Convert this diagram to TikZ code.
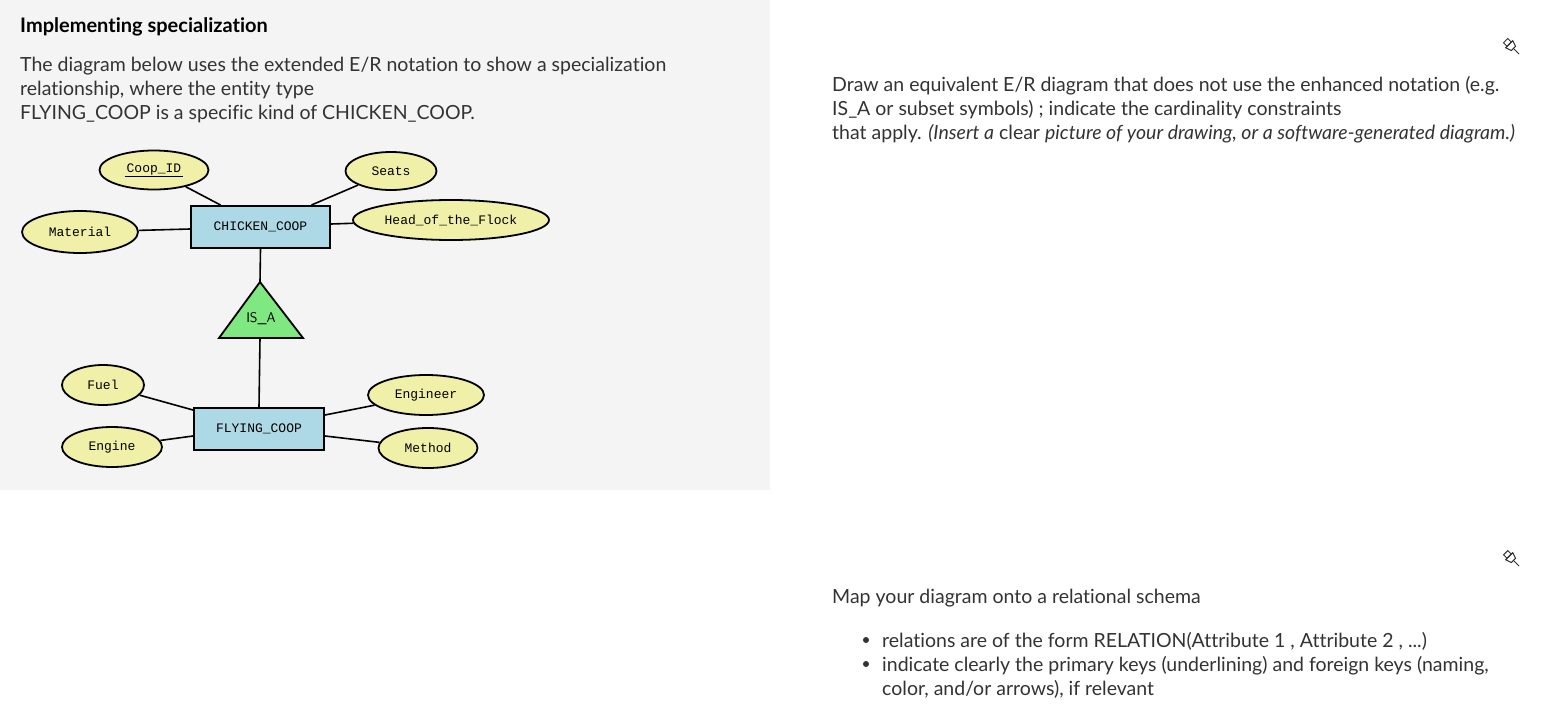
\documentclass[tikz,border=0pt]{standalone}
\usepackage{fontspec}
\setmainfont{Lato}[Ligatures={NoCommon,NoRare}]
\newfontfamily\diagfont{Liberation Mono}
\usetikzlibrary{shapes.geometric}
\definecolor{txt}{HTML}{333333}
\definecolor{panel}{HTML}{F4F4F4}
\definecolor{entc}{HTML}{ADD8E6}
\definecolor{attc}{HTML}{F0F0A8}
\definecolor{isac}{HTML}{80E880}
\begin{document}
\begin{tikzpicture}[x=1pt,y=-1pt,
  ent/.style={draw=black,line width=2pt,fill=entc,minimum height=42pt,inner sep=0pt,font=\diagfont\fontsize{13}{13}\selectfont},
  att/.style={draw=black,line width=1.8pt,fill=attc,ellipse,inner sep=0pt,font=\diagfont\fontsize{13}{13}\selectfont},
  lnk/.style={line width=1.6pt},
  body/.style={anchor=base west,inner sep=0pt,text=txt,font=\fontsize{19.5}{19.5}\selectfont},
  pin/.style={line width=1pt,draw=txt}]
\useasboundingbox (0,0) rectangle (1558,712);
\fill[white] (0,0) rectangle (1558,712);
\fill[panel] (0,0) rectangle (770,490);
% left text
\node[body,font=\bfseries\fontsize{20}{20}\selectfont,text=black] (title) at (20,32) {Implementing specialization};
\node[body] (l1) at (20,71) {The diagram below uses the extended E/R notation to show a specialization};
\node[body] (l2) at (20,95) {relationship, where the entity type};
\node[body] (l3) at (20,119) {FLYING\_COOP is a specific kind of CHICKEN\_COOP.};
% diagram
\node[ent,minimum width=139pt] (cc) at (260.5,227) {CHICKEN\_COOP};
\node[ent,minimum width=130pt] (fc) at (259,429) {FLYING\_COOP};
\node[att,minimum width=109pt,minimum height=39pt] (cid) at (154,170) {\underline{\,Coop\_ID\,}};
\node[att,minimum width=91pt,minimum height=38pt] (seats) at (391,171) {Seats};
\node[att,minimum width=196pt,minimum height=40pt] (head) at (451,220) {Head\_of\_the\_Flock};
\node[att,minimum width=116pt,minimum height=42pt] (mat) at (80,232) {Material};
\node[att,minimum width=82pt,minimum height=40pt] (fuel) at (103,385) {Fuel};
\node[att,minimum width=100pt,minimum height=40pt] (eng) at (112,447) {Engine};
\node[att,minimum width=116pt,minimum height=40pt] (engr) at (426,395) {Engineer};
\node[att,minimum width=99pt,minimum height=40pt] (meth) at (428,448) {Method};
\coordinate (ta) at (260,282);
\coordinate (tb1) at (219,338);
\coordinate (tb2) at (303,338);
\coordinate (tbm) at (260,338);
\filldraw[fill=isac,draw=black,line width=1.8pt,line join=miter] (ta) -- (tb2) -- (tb1) -- cycle;
\node[inner sep=0pt,font=\fontsize{14}{14}\selectfont\sffamily] (isa) at (261,319) {IS\_A};
\draw[lnk] (cid) -- ([xshift=-40pt]cc.north);
\draw[lnk] (seats) -- ([xshift=51pt]cc.north);
\draw[lnk] (head) -- ([yshift=3pt]cc.east);
\draw[lnk] (mat) -- ([yshift=-2pt]cc.west);
\draw[lnk] (cc.south) -- (ta);
\draw[lnk] (tbm) -- (fc.north);
\draw[lnk] (fuel) -- ([yshift=19pt]fc.west);
\draw[lnk] (eng) -- ([yshift=-7pt]fc.west);
\draw[lnk] (engr) -- ([yshift=14pt]fc.east);
\draw[lnk] (meth) -- ([yshift=-7pt]fc.east);
% right text
\node[body] (r1) at (832,91) {Draw an equivalent E/R diagram that does not use the enhanced notation (e.g.};
\node[body] (r2) at (832,115) {IS\_A or subset symbols) ; indicate the cardinality constraints};
\node[body] (r3) at (832,139) {that apply. \textit{(Insert a} clear \textit{picture of your drawing, or a software-generated diagram.)}};
\node[body] (m1) at (832,603) {Map your diagram onto a relational schema};
\fill[txt] (866,640) circle (3pt);
\fill[txt] (866,664) circle (3pt);
\node[body] (b1) at (882,647) {relations are of the form RELATION(Attribute 1 , Attribute 2 , ...)};
\node[body] (b2) at (882,671) {indicate clearly the primary keys (underlining) and foreign keys (naming,};
\node[body] (b3) at (882,695) {color, and/or arrows), if relevant};
% pins
\foreach \py in {47,559}{
\begin{scope}[shift={(1512,\py)},rotate=45]
\draw[pin] (-3,-9) rectangle (3,-4);
\draw[pin] (-5,-4) -- (5,-4) -- (3,2) -- (-3,2) -- cycle;
\draw[pin] (0,2) -- (0,10);
\end{scope}}
\end{tikzpicture}
\end{document}
